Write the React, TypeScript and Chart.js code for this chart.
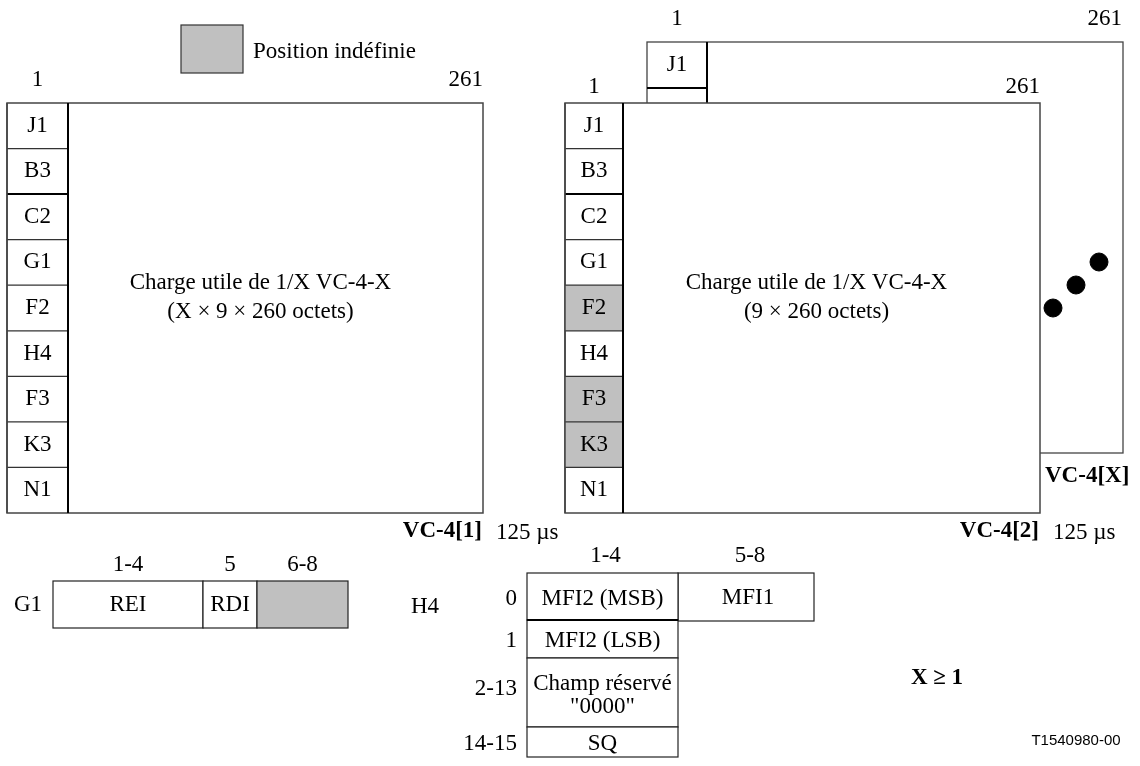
import React, { useEffect, useRef } from "react";
import { Chart, registerables } from "chart.js";

Chart.register(...registerables);

// ---------- content ----------
const VC_ROW_LABELS = ["J1", "B3", "C2", "G1", "F2", "H4", "F3", "K3", "N1"];
const VC1_SHADED: string[] = [];
const VC2_SHADED = ["F2", "F3", "K3"];
const COLUMN_RANGE = ["1", "261"];
const VC1_PAYLOAD = ["Charge utile de 1/X VC-4-X", "(X \u00d7 9 \u00d7 260 octets)"];
const VC2_PAYLOAD = ["Charge utile de 1/X VC-4-X", "(9 \u00d7 260 octets)"];
const VC_NAMES = ["VC-4[1]", "VC-4[2]", "VC-4[X]"];
const PERIOD = "125 \u00b5s";
const LEGEND_TEXT = "Position ind\u00e9finie";

const G1_BITS = ["1-4", "5", "6-8"];
const G1_FIELDS = ["REI", "RDI", ""];
const G1_SHADED = [false, false, true];

const H4_COLS = ["1-4", "5-8"];
const H4_ROWS = ["0", "1", "2-13", "14-15"];
const H4_FIELDS = ["MFI2 (MSB)", "MFI2 (LSB)", "Champ r\u00e9serv\u00e9\n\"0000\"", "SQ"];
const H4_MFI1 = "MFI1";

const NOTE = "X \u2265 1";
const FIG_ID = "T1540980-00";

// continuation dots (diagram units)
const DOTS_X = [1053, 1076, 1099];
const DOTS_Y = [308, 285, 262];

// ---------- layout (diagram units) ----------
const L = {
  W: 1140,
  H: 766,
  top: 103,
  bottom: 513,
  vc1: { x0: 7, col: 68, x1: 483 },
  vc2: { x0: 565, col: 623, x1: 1040 },
  back: { x0: 647, col: 707, x1: 1123, y0: 42, row: 88, y1: 453 },
  legend: { x0: 181, y0: 25, x1: 243, y1: 73 },
  g1: { bounds: [53, 203, 257, 348], y0: 581, y1: 628 },
  h4: { x0: 527, x1: 678, x2: 814, rows: [573, 620, 658, 727, 757], mfi1Bottom: 621 },
};

const FS = 23;
const SERIF = "'Liberation Serif', 'Times New Roman', serif";
const SANS = "'Liberation Sans', Arial, sans-serif";
const SHADE = "#c0c0c0";

const diagramPlugin = {
  id: "diagram",
  beforeDatasetsDraw(chart: any) {
    const ctx: CanvasRenderingContext2D = chart.ctx;
    const xs = chart.scales.x;
    const ys = chart.scales.y;
    const X = (v: number) => xs.getPixelForValue(v);
    const Y = (v: number) => ys.getPixelForValue(v);

    const rect = (x0: number, y0: number, x1: number, y1: number, fill: string | null, stroke: string, lw: number) => {
      ctx.save();
      if (fill) {
        ctx.fillStyle = fill;
        ctx.fillRect(X(x0), Y(y0), X(x1) - X(x0), Y(y1) - Y(y0));
      }
      ctx.strokeStyle = stroke;
      ctx.lineWidth = lw;
      ctx.strokeRect(X(x0), Y(y0), X(x1) - X(x0), Y(y1) - Y(y0));
      ctx.restore();
    };
    const line = (x0: number, y0: number, x1: number, y1: number, stroke: string, lw: number) => {
      ctx.save();
      ctx.strokeStyle = stroke;
      ctx.lineWidth = lw;
      ctx.beginPath();
      ctx.moveTo(X(x0), Y(y0));
      ctx.lineTo(X(x1), Y(y1));
      ctx.stroke();
      ctx.restore();
    };
    const text = (s: string, x: number, y: number, opts: { align?: CanvasTextAlign; size?: number; bold?: boolean; font?: string } = {}) => {
      ctx.save();
      ctx.fillStyle = "#000";
      ctx.textAlign = opts.align || "center";
      ctx.textBaseline = "middle";
      ctx.font = `${opts.bold ? "bold " : ""}${opts.size || FS}px ${opts.font || SERIF}`;
      ctx.fillText(s, X(x), Y(y));
      ctx.restore();
    };

    // background
    ctx.save();
    ctx.fillStyle = "#fff";
    ctx.fillRect(0, 0, chart.width, chart.height);
    ctx.restore();

    // legend
    rect(L.legend.x0, L.legend.y0, L.legend.x1, L.legend.y1, SHADE, "#333", 1.2);
    text(LEGEND_TEXT, 253, 52, { align: "left" });

    // back frame (VC-4[X])
    const b = L.back;
    rect(b.x0, b.y0, b.x1, b.y1, "#fff", "#444", 1.3);
    line(b.col, b.y0, b.col, L.top, "#000", 2);
    line(b.x0, b.row, b.col, b.row, "#000", 2);
    text(VC_ROW_LABELS[0], (b.x0 + b.col) / 2, (b.y0 + b.row) / 2);
    text(COLUMN_RANGE[0], (b.x0 + b.col) / 2, 19);
    text(COLUMN_RANGE[1], b.x1 - 1, 19, { align: "right" });
    text(VC_NAMES[2], 1045, 476, { align: "left", bold: true });

    // VC frames
    const rowH = (L.bottom - L.top) / VC_ROW_LABELS.length;
    const drawVC = (f: { x0: number; col: number; x1: number }, shaded: string[], payload: string[], name: string) => {
      rect(f.x0, L.top, f.x1, L.bottom, "#fff", "#444", 1.5);
      VC_ROW_LABELS.forEach((lab, i) => {
        const y0 = L.top + i * rowH;
        if (shaded.includes(lab)) {
          ctx.save();
          ctx.fillStyle = SHADE;
          ctx.fillRect(X(f.x0), Y(y0), X(f.col) - X(f.x0), Y(y0 + rowH) - Y(y0));
          ctx.restore();
        }
        if (i > 0) line(f.x0, y0, f.col, y0, i === 2 ? "#000" : "#333", i === 2 ? 2 : 1.2);
        text(lab, (f.x0 + f.col) / 2, y0 + rowH / 2);
      });
      line(f.x0, L.top, f.x0, L.bottom, "#444", 1.5);
      line(f.col, L.top, f.col, L.bottom, "#000", 2);
      const cx = (f.col + f.x1) / 2;
      text(payload[0], cx - 15, 283);
      text(payload[1], cx - 15, 312);
      text(COLUMN_RANGE[0], (f.x0 + f.col) / 2, f === L.vc1 ? 80 : 87);
      text(COLUMN_RANGE[1], f.x1, f === L.vc1 ? 80 : 87, { align: "right" });
      text(name, f.x1 - 1, 531, { align: "right", bold: true });
      text(PERIOD, f.x1 + 13, 533, { align: "left" });
    };
    drawVC(L.vc1, VC1_SHADED, VC1_PAYLOAD, VC_NAMES[0]);
    drawVC(L.vc2, VC2_SHADED, VC2_PAYLOAD, VC_NAMES[1]);

    // G1 byte
    const g = L.g1;
    text("G1", 28, 605);
    G1_BITS.forEach((bits, i) => {
      const x0 = g.bounds[i];
      const x1 = g.bounds[i + 1];
      rect(x0, g.y0, x1, g.y1, G1_SHADED[i] ? SHADE : "#fff", "#222", 1.2);
      text(bits, (x0 + x1) / 2, 565);
      if (G1_FIELDS[i]) text(G1_FIELDS[i], (x0 + x1) / 2, 605);
    });

    // H4 byte
    const h = L.h4;
    text("H4", 425, 607);
    text(H4_COLS[0], (h.x0 + h.x1) / 2 + 3, 556);
    text(H4_COLS[1], (h.x1 + h.x2) / 2 + 4, 556);
    rect(h.x1, h.rows[0], h.x2, h.mfi1Bottom, "#fff", "#222", 1.2);
    text(H4_MFI1, (h.x1 + h.x2) / 2 + 2, 598);
    H4_ROWS.forEach((r, i) => {
      const y0 = h.rows[i];
      const y1 = h.rows[i + 1];
      rect(h.x0, y0, h.x1, y1, "#fff", "#222", 1.2);
      const lines = H4_FIELDS[i].split("\n");
      const cy = (y0 + y1) / 2;
      if (lines.length === 1) {
        text(lines[0], (h.x0 + h.x1) / 2, cy + 2);
        text(r, 517, cy + 2, { align: "right" });
      } else {
        text(lines[0], (h.x0 + h.x1) / 2, cy - 9);
        text(lines[1], (h.x0 + h.x1) / 2, cy + 14);
        text(r, 517, cy - 4, { align: "right" });
      }
    });
    line(h.x0, h.rows[1], h.x1, h.rows[1], "#000", 2);

    // notes
    text(NOTE, 937, 678, { bold: true });
    text(FIG_ID, 1076, 741, { size: 15, font: SANS });
  },
};

export default function App() {
  const ref = useRef<HTMLCanvasElement | null>(null);
  useEffect(() => {
    if (!ref.current) return;
    const chart = new Chart(ref.current, {
      type: "scatter",
      data: {
        datasets: [
          {
            label: "continuation",
            data: DOTS_X.map((x, i) => ({ x, y: DOTS_Y[i] })),
            backgroundColor: "#000",
            borderColor: "#000",
            pointRadius: 9,
            pointHoverRadius: 9,
          },
        ],
      },
      options: {
        responsive: false,
        animation: false,
        layout: { padding: 0, autoPadding: false },
        scales: {
          x: { type: "linear", min: 0, max: L.W, display: false },
          y: { type: "linear", min: 0, max: L.H, reverse: true, display: false },
        },
        plugins: { legend: { display: false }, tooltip: { enabled: false } },
        events: [],
      },
      plugins: [diagramPlugin],
    });
    return () => chart.destroy();
  }, []);
  return (
    <div style={{ position: "absolute", left: 0, top: 0, width: 1140, height: 766, background: "#fff" }}>
      <canvas ref={ref} width={1140} height={766} style={{ width: 1140, height: 766 }} />
    </div>
  );
}
